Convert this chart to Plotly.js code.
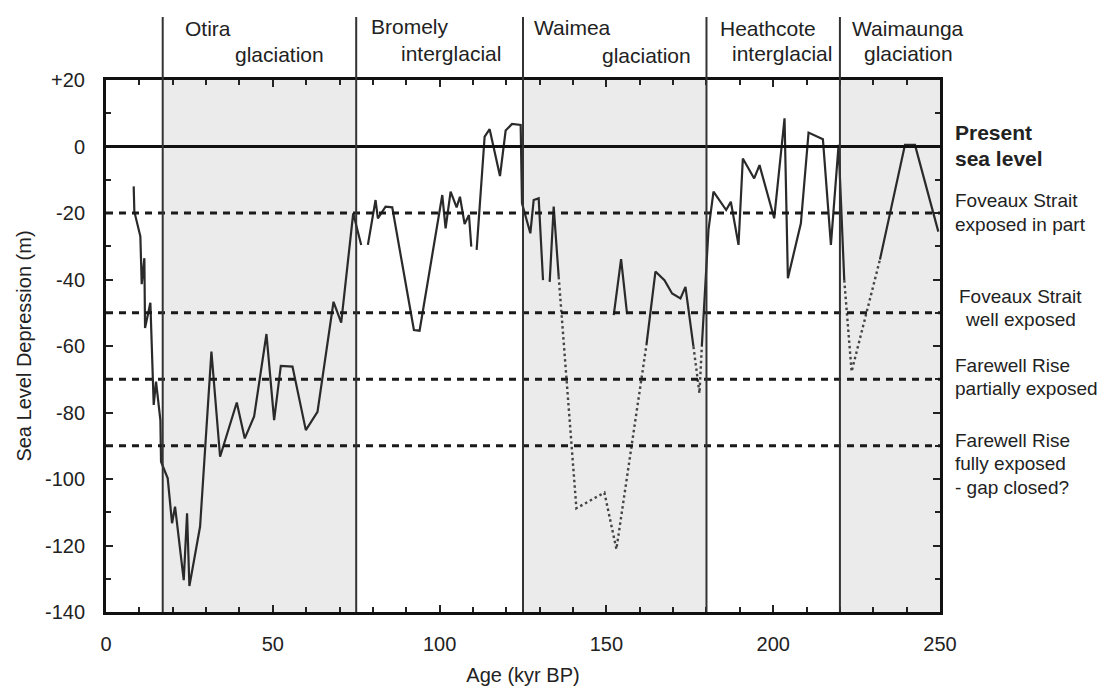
<!DOCTYPE html>
<html><head><meta charset="utf-8">
<script src="https://cdn.plot.ly/plotly-3.0.1.min.js"></script>
<style>html,body{margin:0;padding:0;background:#fff}</style>
</head><body><div id="chart" style="width:1104px;height:695px"></div>
<script>
// ---- data (kyr BP, metres) ----
const solidAge = [8.3, 8.5, 10.3, 10.7, 11.5, 11.7, 13.3, 14.3, 15, 16.3, 16.5, 18.5, 19.8, 20.7, 23.3, 24.3, 25, 28.2, 31.6, 34.2, 39.2, 41.6, 44.4, 48.1, 50.4, 52.4, 55.9, 59.9, 63.4, 68.2, 70.5, 74.1, 76.5, null,
  78.5, 80.8, 81.5, 83.8, 85.8, 92.3, 94, 100.8, 101.8, 103.3, 105.1, 106.1, 107.5, 108.8, 109.5, null,
  111.1, 113.5, 115, 118.1, 119.8, 121.7, 124.3, 124.7, 127.2, 128.2, 129.7, 131, null,
  133, 134.2, 135.7, null,
  152.2, 154.4, 156.2, null,
  162, 164.7, 167.4, 169.7, 172.2, 173.7, 176.1, null,
  178.6, 180.6, 182.1, 185.9, 187.3, 189.6, 190.9, 194.3, 195.9, 200.3, 203.4, 204.4, 208.3, 210.6, 214.9, 217.3, 219.6, 221.3, null,
  232, 239.5, 242.5, 249.5];
const solidDepth = [-12, -19.6, -27, -41.4, -33.6, -54.6, -47, -77.7, -70.7, -82.3, -94.8, -99.8, -113.3, -108.3, -130.4, -110.3, -132.2, -114.3, -61.7, -93.3, -77, -87.8, -81.2, -56.4, -82.3, -66, -66.2, -85.3, -79.8, -46.7, -53, -20.1, -29.6, null,
  -29.6, -16.1, -21.6, -18.1, -18.3, -55.2, -55.4, -14.6, -24.6, -13.6, -18.3, -15.1, -23.3, -20.6, -30.1, null,
  -31.1, 3, 5.2, -8.9, 4.8, 6.8, 6.5, -17.1, -26.1, -16.1, -15.6, -40.2, null,
  -40.7, -18.1, -39.2, null,
  -50.7, -33.9, -50.4, null,
  -59.7, -37.6, -40.2, -44.2, -45.7, -42.2, -60.2, null,
  -60.2, -25.1, -13.6, -19.1, -16.6, -29.6, -3.6, -9.6, -5.6, -21.6, 8.5, -39.6, -23.1, 4.2, 2.2, -29.6, 0.5, -40.2, null,
  -34, 0.5, 0.5, -25.6];
const dottedAge = [135.7, 141, 149.4, 153, 162, null, 176.1, 177.9, 178.6, null, 221.3, 223.5, 232];
const dottedDepth = [-39.2, -108.8, -104.1, -121.1, -59.7, null, -60.2, -74.2, -60.2, null, -40.2, -67.7, -34];

const periodBounds = [17, 75, 125, 180, 220];
const glacialStart = [17, 125, 220];
const glacialEnd = [75, 180, 250];
const thresholdLevels = [-20, -50, -70, -90];
const presentLevel = 0;
const yTickVals = [20, 0, -20, -40, -60, -80, -100, -120, -140];
const yTickText = ['+20', '0', '-20', '-40', '-60', '-80', '-100', '-120', '-140'];
const xTickVals = [0, 50, 100, 150, 200, 250];

// period header labels: [text, left px, centre px]
const headerLabels = [
  ['Otira', 183, 29], ['glaciation', 233, 55],
  ['Bromely', 369, 26], ['interglacial', 399, 53],
  ['Waimea', 532, 28], ['glaciation', 600, 56],
  ['Heathcote', 718, 29], ['interglacial', 730, 54],
  ['Waimaunga', 850, 29], ['glaciation', 862, 54]
];
const sideLabels = [
  ['<b>Present</b>', 953, 132, 21], ['<b>sea level</b>', 953, 158, 21],
  ['Foveaux Strait', 953, 200, 19], ['exposed in part', 953, 224, 19],
  ['Foveaux Strait', 957, 296, 19], ['well exposed', 963, 319, 19],
  ['Farewell Rise', 953, 365, 19], ['partially exposed', 953, 388, 19],
  ['Farewell Rise', 953, 440, 19], ['fully exposed', 953, 463, 19], ['- gap closed?', 953, 487, 19]
];

// ---- layout helpers ----
const L = 106, R = 940, T = 80, B = 612;
const px = v => (v - L) / (R - L);
const py = v => (B - v) / (B - T);
const FONT = '"Liberation Sans", Arial, sans-serif';

const shapes = [];
for (let i = 0; i < glacialStart.length; i++) {
  shapes.push({type: 'rect', xref: 'x', yref: 'paper', x0: glacialStart[i], x1: glacialEnd[i], y0: 0, y1: 1,
    fillcolor: '#ebebeb', line: {width: 0}, layer: 'below'});
}
thresholdLevels.forEach(v => shapes.push({type: 'line', xref: 'paper', yref: 'y', x0: 0, x1: 1, y0: v, y1: v,
  line: {color: '#1a1a1a', width: 3, dash: '7px,6px'}, layer: 'above'}));
shapes.push({type: 'line', xref: 'paper', yref: 'y', x0: 0, x1: 1, y0: presentLevel, y1: presentLevel,
  line: {color: '#111', width: 3}, layer: 'above'});
periodBounds.forEach(v => shapes.push({type: 'line', xref: 'x', yref: 'paper', x0: v, x1: v, y0: 0, y1: py(17),
  line: {color: '#333', width: 2}, layer: 'above'}));

const annotations = [];
headerLabels.forEach(([t, x, y]) => annotations.push({text: t, xref: 'paper', yref: 'paper', x: px(x), y: py(y),
  xanchor: 'left', yanchor: 'middle', showarrow: false, font: {family: FONT, size: 21, color: '#222'}}));
sideLabels.forEach(([t, x, y, s]) => annotations.push({text: t, xref: 'paper', yref: 'paper', x: px(x), y: py(y),
  xanchor: 'left', yanchor: 'middle', showarrow: false, font: {family: FONT, size: s, color: '#222'}}));

const traces = [
  {x: solidAge, y: solidDepth, type: 'scatter', mode: 'lines', connectgaps: false,
   line: {color: '#2a2a2a', width: 2.2}, hoverinfo: 'skip'},
  {x: dottedAge, y: dottedDepth, type: 'scatter', mode: 'lines', connectgaps: false,
   line: {color: '#444', width: 2.4, dash: '2.5px,3px'}, hoverinfo: 'skip'}
];

const layout = {
  width: 1104, height: 695,
  margin: {l: L, r: 1104 - R, t: T, b: 695 - B},
  paper_bgcolor: '#fff', plot_bgcolor: 'rgba(0,0,0,0)',
  showlegend: false,
  font: {family: FONT, size: 20, color: '#222'},
  xaxis: {range: [0, 250], tickmode: 'array', tickvals: xTickVals, ticks: 'inside', ticklen: 7, tickwidth: 2,
    tickcolor: '#222', showline: true, linecolor: '#111', linewidth: 3, mirror: 'ticks', showgrid: false, zeroline: false,
    minor: {tickmode: 'linear', tick0: 0, dtick: 10, ticks: 'inside', ticklen: 5, tickwidth: 2, tickcolor: '#222'},
    ticklabelstandoff: 12, tickfont: {size: 20},
    title: {text: 'Age (kyr BP)', font: {size: 20}, standoff: 14}},
  yaxis: {range: [-140, 20], tickmode: 'array', tickvals: yTickVals, ticktext: yTickText, ticks: 'inside', ticklen: 7, tickwidth: 2,
    tickcolor: '#222', showline: true, linecolor: '#111', linewidth: 3, mirror: 'ticks', showgrid: false, zeroline: false,
    minor: {tickmode: 'linear', tick0: 0, dtick: 10, ticks: 'inside', ticklen: 5, tickwidth: 2, tickcolor: '#222'},
    ticklabelstandoff: 14, tickfont: {size: 20},
    title: {text: 'Sea Level Depression (m)', font: {size: 20}, standoff: 8}},
  shapes: shapes,
  annotations: annotations
};
Plotly.newPlot('chart', traces, layout, {staticPlot: true, displayModeBar: false});
</script></body></html>
